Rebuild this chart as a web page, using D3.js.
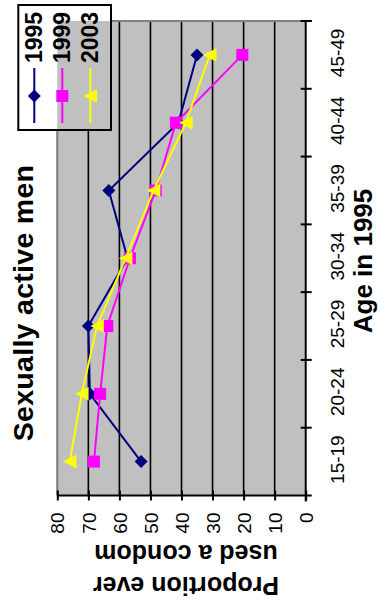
<!DOCTYPE html>
<html>
<head>
<meta charset="utf-8">
<script src="https://cdn.jsdelivr.net/npm/d3@7"></script>
<style>
  html, body { margin: 0; padding: 0; background: #fff; }
  svg { display: block; font-family: Arial, "Liberation Sans", sans-serif; }
</style>
</head>
<body>
<svg id="chart" width="379" height="605"></svg>
<script>
// Age groups (in 1995) and the share of sexually active men who ever used a condom
const categories = ["15-19", "20-24", "25-29", "30-34", "35-39", "40-44", "45-49"];
const years = ["1995", "1999", "2003"];
const values1995 = [53, 69.5, 70, 57.4, 63.4, 41, 35];
const values1999 = [68.2, 66.2, 63.9, 56.6, 48.3, 41.8, 20.4];
const values2003 = [76, 72.1, 67.2, 58, 49, 38.6, 30.9];
const valueTicks = [0, 10, 20, 30, 40, 50, 60, 70, 80];

const seriesList = [
  { name: years[0], values: values1995, color: "#000080", marker: "diamond" },
  { name: years[1], values: values1999, color: "#FF00FF", marker: "square" },
  { name: years[2], values: values2003, color: "#FFFF00", marker: "triangle" }
];

const svg = d3.select("#chart");

// Layout of the (rotated) plot area
const plot = { left: 57.3, right: 305.7, top: 21, bottom: 495.5 };

// Value axis runs horizontally, 80 on the left and 0 on the right
const x = d3.scaleLinear().domain([0, 80]).range([plot.right, plot.left]);
// Age groups run vertically, youngest at the bottom
const y = d3.scaleBand().domain(categories).range([plot.bottom, plot.top]).padding(0);
const yc = c => y(c) + y.bandwidth() / 2;

// Plot area background
svg.append("rect")
  .attr("x", plot.left).attr("y", plot.top)
  .attr("width", plot.right - plot.left).attr("height", plot.bottom - plot.top)
  .attr("fill", "#C0C0C0");

// Gridlines
svg.append("g").selectAll("line")
  .data(valueTicks.filter(v => v > 0 && v < 80))
  .join("line")
  .attr("x1", d => x(d)).attr("x2", d => x(d))
  .attr("y1", plot.top).attr("y2", plot.bottom)
  .attr("stroke", "#000").attr("stroke-width", 1.6);

// Grey plot border on the top and left
svg.append("path")
  .attr("d", `M${plot.left},${plot.bottom} V${plot.top} H${plot.right}`)
  .attr("fill", "none").attr("stroke", "#808080").attr("stroke-width", 2.2);

// Value axis (bottom) with crossing ticks
const xAxis = svg.append("g")
  .attr("transform", `translate(0,${plot.bottom})`)
  .call(d3.axisBottom(x).tickValues(valueTicks).tickSizeOuter(0).tickSizeInner(5));
xAxis.select(".domain")
  .attr("d", `M${plot.left},0 H${plot.right + 6}`)
  .attr("stroke", "#000").attr("stroke-width", 2);
xAxis.selectAll(".tick line")
  .attr("y1", -5).attr("y2", 5).attr("stroke", "#000").attr("stroke-width", 2);
xAxis.selectAll(".tick text")
  .attr("y", 0).attr("dy", null)
  .attr("transform", "translate(0,17) rotate(-90)")
  .attr("text-anchor", "end")
  .attr("dy", "0.35em")
  .attr("font-size", 19)
  .attr("font-family", "Arial, 'Liberation Sans', sans-serif")
  .attr("fill", "#000");

// Category axis (right) with crossing ticks at band boundaries
const yAxis = svg.append("g")
  .attr("transform", `translate(${plot.right},0)`)
  .call(d3.axisRight(y).tickSize(0).tickSizeOuter(0));
yAxis.select(".domain")
  .attr("d", `M0,${plot.top - 1} V${plot.bottom + 6}`)
  .attr("stroke", "#000").attr("stroke-width", 2);
yAxis.selectAll(".tick text")
  .attr("x", 0).attr("dy", null)
  .attr("transform", "translate(38,-2) rotate(-90)")
  .attr("text-anchor", "middle")
  .attr("font-size", 19)
  .attr("font-family", "Arial, 'Liberation Sans', sans-serif")
  .attr("fill", "#000");
const boundaries = categories.map(c => y(c)).concat([plot.top]);
yAxis.append("g").selectAll("line")
  .data(boundaries)
  .join("line")
  .attr("x1", -5).attr("x2", 6)
  .attr("y1", d => d).attr("y2", d => d)
  .attr("stroke", "#000").attr("stroke-width", 2);

// Marker shapes in the rotated frame
function markerPath(type, s) {
  const h = s / 2;
  if (type === "diamond") return `M0,${-h} L${h},0 L0,${h} L${-h},0 Z`;
  if (type === "square") return `M${-h},${-h} H${h} V${h} H${-h} Z`;
  return `M${-h},0 L${h},${-h} L${h},${h} Z`; // triangle pointing left
}
const markerSize = { diamond: 13, square: 12, triangle: 13.5 };

// Series lines and markers
const line = d3.line().x(d => x(d.v)).y(d => yc(d.c));
seriesList.forEach(s => {
  const pts = categories.map((c, i) => ({ c, v: s.values[i] }));
  const g = svg.append("g");
  g.append("path")
    .attr("d", line(pts))
    .attr("fill", "none").attr("stroke", s.color).attr("stroke-width", 2);
  g.selectAll("path.m")
    .data(pts)
    .join("path")
    .attr("class", "m")
    .attr("d", markerPath(s.marker, markerSize[s.marker]))
    .attr("transform", d => `translate(${x(d.v)},${yc(d.c)})`)
    .attr("fill", s.color);
});

// Legend
const legend = { x0: 18.3, x1: 111, y0: 5, y1: 130 };
svg.append("rect")
  .attr("x", legend.x0).attr("y", legend.y0)
  .attr("width", legend.x1 - legend.x0).attr("height", legend.y1 - legend.y0)
  .attr("fill", "#fff");
svg.append("rect")
  .attr("x", plot.left).attr("y", plot.top)
  .attr("width", legend.x1 - plot.left).attr("height", legend.y1 - plot.top)
  .attr("fill", "#C0C0C0");
svg.append("rect")
  .attr("x", legend.x0).attr("y", legend.y0)
  .attr("width", legend.x1 - legend.x0).attr("height", legend.y1 - legend.y0)
  .attr("fill", "none").attr("stroke", "#000").attr("stroke-width", 2);

const legendCols = d3.scalePoint().domain(years).range([34.3, 90.3]);
seriesList.forEach(s => {
  const cx = legendCols(s.name);
  const g = svg.append("g");
  g.append("line")
    .attr("x1", cx).attr("x2", cx).attr("y1", 68).attr("y2", 123)
    .attr("stroke", s.color).attr("stroke-width", 2);
  g.append("path")
    .attr("d", markerPath(s.marker, markerSize[s.marker]))
    .attr("transform", `translate(${cx},96)`)
    .attr("fill", s.color);
  g.append("text")
    .attr("transform", `translate(${cx + 8},63) rotate(-90)`)
    .attr("text-anchor", "start")
    .attr("font-size", 23).attr("font-weight", "bold")
    .text(s.name);
});

// Chart title
svg.append("text")
  .attr("transform", "translate(33,303) rotate(-90)")
  .attr("text-anchor", "middle")
  .attr("font-size", 28.5).attr("font-weight", "bold")
  .attr("letter-spacing", 0.3)
  .text("Sexually active men");

// Category axis title
svg.append("text")
  .attr("transform", "translate(372,261) rotate(-90)")
  .attr("text-anchor", "middle")
  .attr("font-size", 26).attr("font-weight", "bold")
  .text("Age in 1995");

// Value axis title (two lines, upside down)
const vTitle = svg.append("g").attr("transform", "translate(186,0)");
vTitle.append("text")
  .attr("transform", "translate(0,577) rotate(180)")
  .attr("text-anchor", "middle")
  .attr("font-size", 25).attr("font-weight", "bold")
  .text("Proportion ever");
vTitle.append("text")
  .attr("transform", "translate(0,545) rotate(180)")
  .attr("text-anchor", "middle")
  .attr("font-size", 25).attr("font-weight", "bold")
  .text("used a condom");
</script>
</body>
</html>
